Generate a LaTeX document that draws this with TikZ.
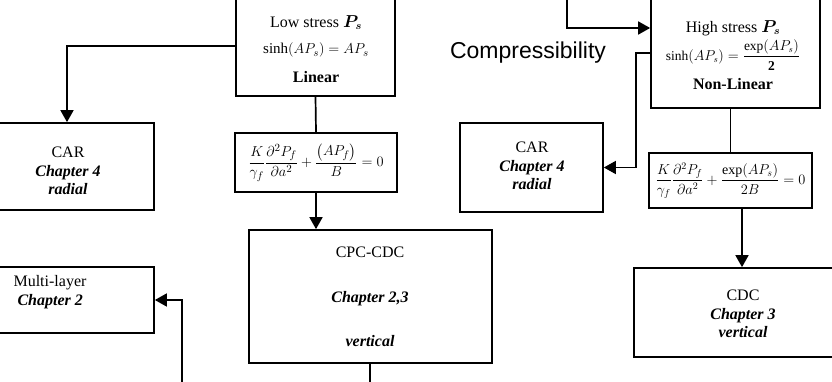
\documentclass[tikz,border=0pt]{standalone}
\usepackage{amsmath}
\usepackage{bm}
\usepackage{fontspec}
\setmainfont{Liberation Serif}
\setsansfont{Liberation Sans}
\usetikzlibrary{arrows.meta,positioning}
\tikzset{
	>=Latex,
	stagebox/.style={
		draw,
		line width=1.7pt,
		inner sep=0pt
	},
	boxtext/.style={
		align=center,
		inner sep=0pt,
		font=\fontsize{16}{18.5}\selectfont
	},
	eqtext/.style={
		inner sep=0pt,
		font=\fontsize{15.5}{18}\selectfont
	},
	conn/.style={
		-{Triangle[length=12pt,width=13pt]},
		line width=1.7pt
	},
	link/.style={
		line width=1.7pt
	}
}

\begin{document}
\begin{tikzpicture}[x=1pt,y=-1pt]
	\useasboundingbox (0,0) rectangle (832,382);
	\clip (0,0) rectangle (832,382);
	
	% Low stress branch
	\node[stagebox,minimum width=159pt,minimum height=116pt] (low) at (315.5,38) {};
	\node[boxtext] (lowtxt) at (316,49) {Low stress $\bm{P_s}$\\[8pt]{\fontsize{15}{17}\selectfont$\sinh\!\left(AP_s\right)=AP_s$}\\[10pt]\textbf{Linear}};
	\node[stagebox,minimum width=162pt,minimum height=59pt] (eqlow) at (316,162.5) {};
	\node[eqtext] (eqlowtxt) at (eqlow) {$\dfrac{K}{\gamma_f}\dfrac{\partial^2P_f}{\partial a^2}+\dfrac{\left(AP_f\right)}{B}=0$};
	
	% High stress branch
	\node[stagebox,minimum width=169pt,minimum height=128pt] (high) at (735.5,44) {};
	\node[boxtext] (hightxt) at (733,55) {High stress $\bm{P_s}$\\[3pt]{\fontsize{13.5}{16}\selectfont$\sinh\!\left(AP_s\right)=\dfrac{\exp\!\left(AP_s\right)}{\mathbf{2}}$}\\[7pt]\textbf{Non-Linear}};
	\node[stagebox,minimum width=163pt,minimum height=55pt] (eqhigh) at (730.5,180.5) {};
	\node[eqtext,font=\fontsize{14}{17}\selectfont] (eqhightxt) at (eqhigh) {$\dfrac{K}{\gamma_f}\dfrac{\partial^2P_f}{\partial a^2}+\dfrac{\exp\!\left(AP_s\right)}{2B}=0$};
	
	\node[font=\sffamily\fontsize{23}{27}\selectfont] (comp) at (528,53) {Compressibility};
	
	% Models
	\node[stagebox,minimum width=174pt,minimum height=87pt] (carL) at (67,166.5) {};
	\node[boxtext] at (68,171) {CAR\\\textbf{\textit{Chapter 4}}\\\textbf{\textit{radial}}};
	\node[stagebox,minimum width=143pt,minimum height=89pt] (carR) at (531.5,167.5) {};
	\node[boxtext] at (532,166) {CAR\\\textbf{\textit{Chapter 4}}\\\textbf{\textit{radial}}};
	\node[stagebox,minimum width=174pt,minimum height=66pt] (multi) at (67,300) {};
	\node[boxtext,align=left] at (50,292) {Multi-layer\\\ \textbf{\textit{Chapter 2}}};
	\node[stagebox,minimum width=243pt,minimum height=133pt] (cpc) at (370.5,296.5) {};
	\node[boxtext] at (370,297) {CPC-CDC\\[26pt]\textbf{\textit{Chapter 2,3}}\\[26pt]\textbf{\textit{vertical}}};
	\node[stagebox,minimum width=216pt,minimum height=89pt] (cdc) at (742,312.5) {};
	\node[boxtext] at (743,314) {CDC\\\textbf{\textit{Chapter 3}}\\\textbf{\textit{vertical}}};
	
	% Loose ends
	\coordinate (topin) at (567,-10);
	\coordinate (cpcout) at (370,395);
	\coordinate (multiin) at (182,395);
	
	% Connections
	\draw[conn] ([yshift=-8pt]low.west) -| (carL.north);
	\draw[link] (low.south) -- (eqlow.north);
	\draw[conn] (eqlow.south) -- (eqlow.south |- cpc.north);
	\draw[link] (cpc.south -| cpcout) -- (cpcout);
	\draw[conn] (multiin) |- (multi.east);
	
	\draw[conn] (topin) |- ([yshift=16pt]high.west);
	\draw[conn] ([yshift=-9pt]high.west) -- ++(-14,0) |- (carR.east);
	\draw[link] (high.south -| eqhigh.north) -- (eqhigh.north);
	\draw[conn] (cdc.north |- eqhigh.south) -- (cdc.north);
	
\end{tikzpicture}
\end{document}
